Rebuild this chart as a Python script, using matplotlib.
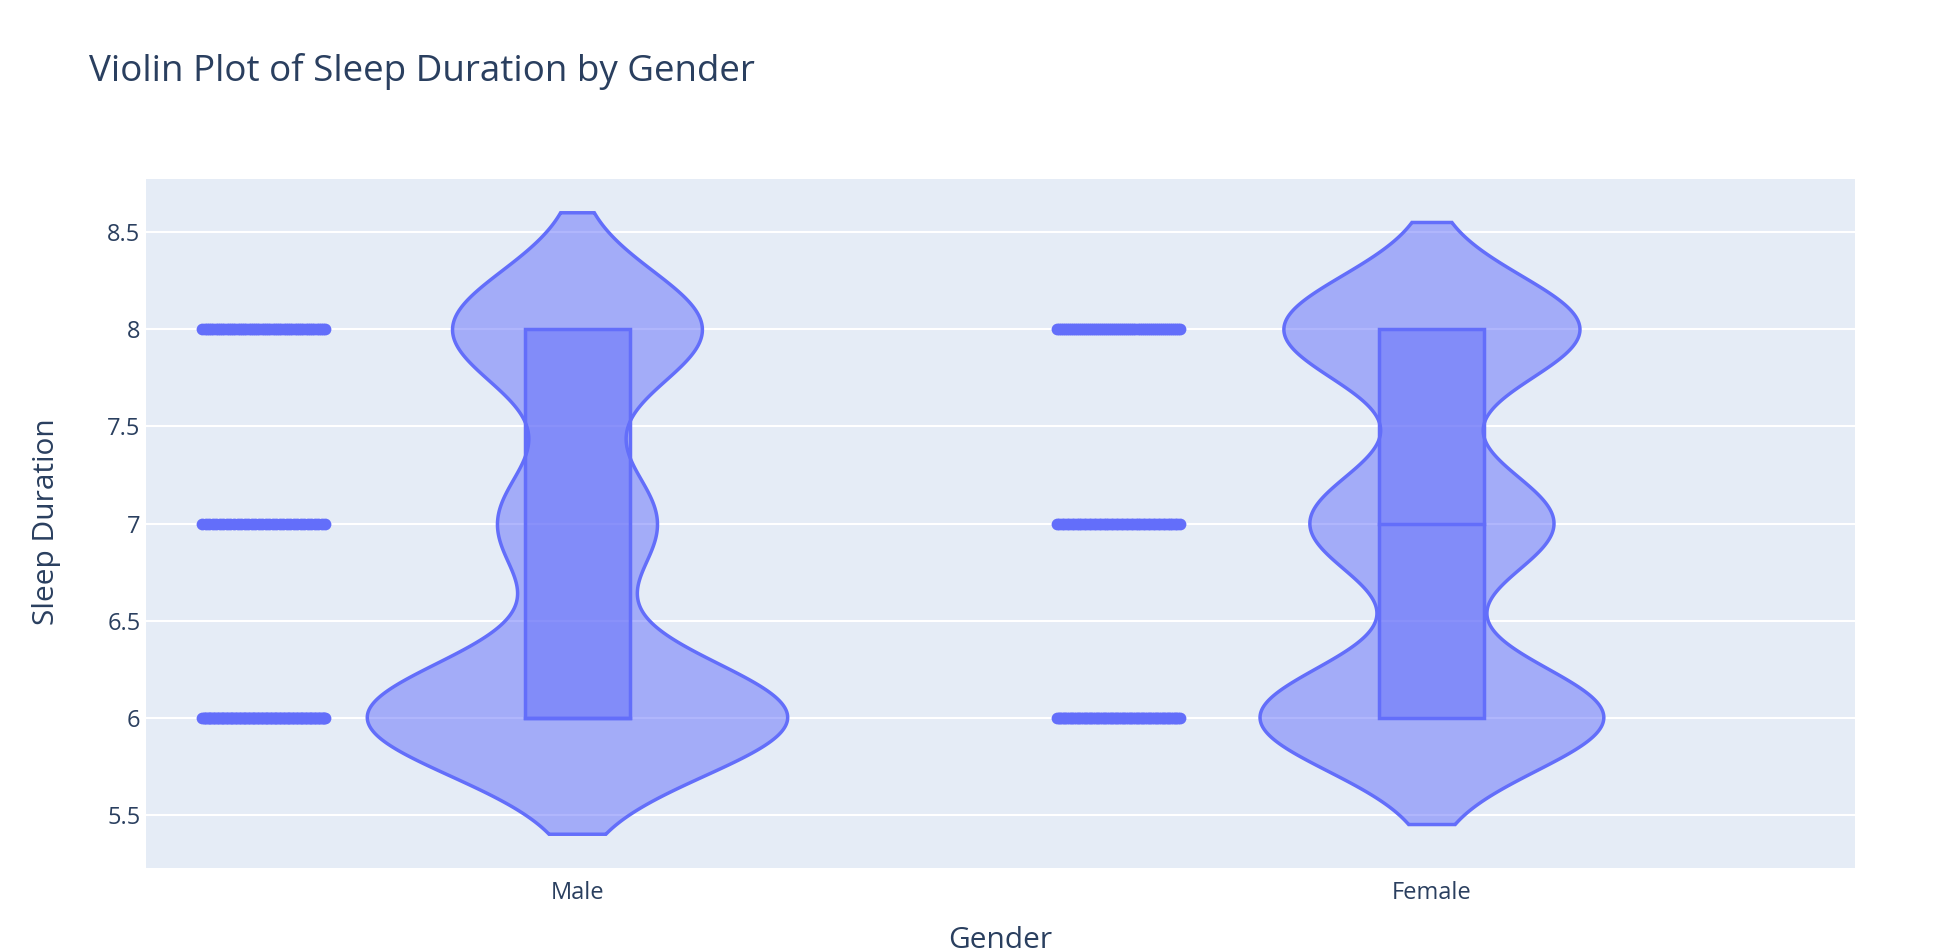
import numpy as np
import matplotlib.pyplot as plt
from matplotlib.colors import to_rgba
from matplotlib.patches import Rectangle

# counts of sleep duration values per gender
genders = ["Male", "Female"]
sleep_levels = np.array([6.0, 7.0, 8.0])
male_counts = [96, 36, 57]
female_counts = [72, 51, 62]
bandwidths = [0.3, 0.275]  # kde bandwidth of each violin

plot_color = "#636efa"
text_color = "#2a3f5f"
fill_color = to_rgba(plot_color, 0.5)

plt.rcParams['font.family'] = ['Open Sans', 'DejaVu Sans']

fig = plt.figure(figsize=(19.36, 9.52), dpi=100)
ax = fig.add_axes([0.0754, 0.0882, 0.8827, 0.7238])
ax.set_facecolor("#e5ecf6")

# gaussian kde for each group, scaled by count
curves = []
for counts, bw in zip([male_counts, female_counts], bandwidths):
    values = np.repeat(sleep_levels, counts)
    ys = np.linspace(values.min() - 2 * bw, values.max() + 2 * bw, 500)
    dens = np.exp(-0.5 * ((ys[:, None] - values[None, :]) / bw) ** 2).sum(axis=1) / bw
    curves.append((values, ys, dens))

max_half = 0.246
scale = max_half / max(c[2].max() for c in curves)
box_half = 0.0615
point_pos = -0.367
jitter = 0.072
lw = 2.5

for i, (values, ys, dens) in enumerate(curves):
    half = dens * scale
    xs = np.concatenate([i - half, (i + half)[::-1]])
    yy = np.concatenate([ys, ys[::-1]])
    ax.fill(xs, yy, facecolor=fill_color, edgecolor=plot_color, linewidth=lw, zorder=3)

    q1, med, q3 = np.percentile(values, [25, 50, 75])
    ax.add_patch(Rectangle((i - box_half, q1), 2 * box_half, q3 - q1,
                           facecolor=fill_color, edgecolor=plot_color, linewidth=lw, zorder=4))
    ax.plot([i - box_half, i + box_half], [med, med], color=plot_color, lw=lw, zorder=5)
    ax.plot([i, i], [values.min(), q1], color=plot_color, lw=lw, zorder=5)
    ax.plot([i, i], [q3, values.max()], color=plot_color, lw=lw, zorder=5)

    # all points, spread sideways next to the violin
    for lvl in sleep_levels:
        n = int((values == lvl).sum())
        px = i + point_pos + np.linspace(-jitter, jitter, n)
        ax.scatter(px, np.full(n, lvl), s=72, color=plot_color, linewidths=0, zorder=5)

ax.set_xlim(-0.505, 1.495)
ax.set_ylim(5.226, 8.774)
ax.set_xticks(range(len(genders)))
ax.set_xticklabels(genders)
ax.set_yticks([5.5, 6, 6.5, 7, 7.5, 8, 8.5])
ax.set_yticklabels(["5.5", "6", "6.5", "7", "7.5", "8", "8.5"])
ax.grid(axis="y", color="white", linewidth=1.5)
ax.set_axisbelow(True)
for s in ax.spines.values():
    s.set_visible(False)
ax.tick_params(axis="both", length=0, labelsize=17, labelcolor=text_color)
ax.tick_params(axis="x", pad=9)
ax.tick_params(axis="y", pad=4)

fig.text(0.046, 0.925, "Violin Plot of Sleep Duration by Gender", fontsize=26.5,
         color=text_color, va="center", ha="left")
fig.text(47 / 1936, 1 - 522 / 952, "Sleep Duration", rotation=90, fontsize=21.5,
         color=text_color, va="center", ha="center")
fig.text(1000 / 1936, 1 - 940 / 952, "Gender", fontsize=21.5,
         color=text_color, va="center", ha="center")

plt.savefig("out.png", dpi=100)
